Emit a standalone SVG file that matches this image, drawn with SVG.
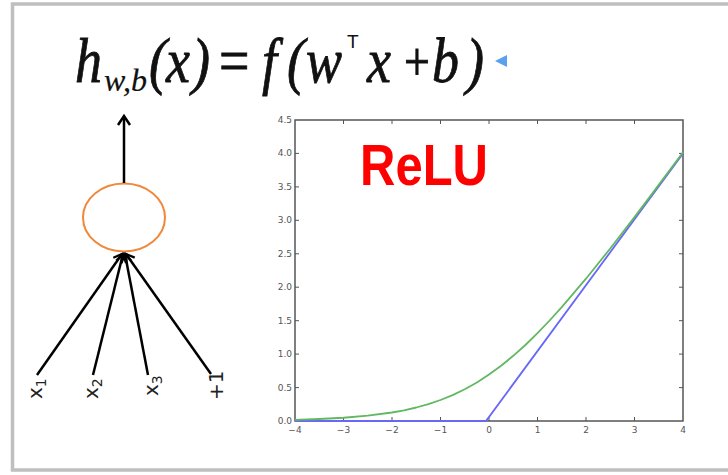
<svg xmlns="http://www.w3.org/2000/svg" width="728" height="475" viewBox="0 0 728 475">
<style>
.frm{fill:#fff;stroke:#bfbfbf;stroke-width:3.5}
.eq{font-family:"Liberation Serif","Times New Roman",serif;fill:#111;font-style:italic;stroke:#111;stroke-width:0.7}
.sub{stroke-width:0.2}
.up{font-style:normal}
.lbl{font-family:"DejaVu Sans","Liberation Sans",sans-serif;font-size:20px;fill:#222}
.tick{font-family:"DejaVu Sans","Liberation Sans",sans-serif;font-size:9px;fill:#555}
.ax{fill:none;stroke:#555;stroke-width:1.5}
.tk{stroke:#555;stroke-width:1}
.edge{stroke:#000;stroke-width:2.5;fill:none}
</style>
<defs>
<marker id="arr" markerUnits="userSpaceOnUse" markerWidth="16" markerHeight="16" refX="10" refY="6" orient="auto">
<path d="M2,1 L10,6 L2,11" fill="none" stroke="#000" stroke-width="2.2"/>
</marker>
</defs>
<rect class="frm" x="12.5" y="4" width="722" height="466"/>

<g id="formula">
<text class="eq" transform="translate(0,82) scale(1,1.18)" y="0" font-size="54"><tspan x="75">h</tspan><tspan x="149">(</tspan><tspan x="166">x</tspan><tspan x="192">)</tspan><tspan class="up" x="219">=</tspan><tspan x="262">f</tspan><tspan x="287">(</tspan><tspan x="306">w</tspan><tspan x="367">x</tspan><tspan class="up" x="404" font-size="46" dy="-2">+</tspan><tspan x="432" dy="2">b</tspan><tspan x="466">)</tspan></text>
<text class="eq sub" x="104" y="91" font-size="32">w,b</text>
<text x="347" y="48" font-family="Liberation Sans,Arial,sans-serif" font-size="19" fill="#111">T</text>
<polygon points="495,61 507,55 507,67" fill="#5aa0f0"/>
</g>

<g id="neuron">
<ellipse cx="124" cy="217.5" rx="41" ry="34" fill="#fff" stroke="#f0883a" stroke-width="2"/>
</g>

<g id="connectors">
<line class="edge" x1="124" y1="183" x2="124" y2="117"/>
<polyline class="edge" points="118,125 124,116 130,125"/>
<line class="edge" x1="37" y1="375" x2="122" y2="254" marker-end="url(#arr)"/>
<line class="edge" x1="93" y1="375" x2="123" y2="254" marker-end="url(#arr)"/>
<line class="edge" x1="148" y1="375" x2="125" y2="254" marker-end="url(#arr)"/>
<line class="edge" x1="211" y1="374" x2="126" y2="254" marker-end="url(#arr)"/>
</g>

<g id="input-x1"><text class="lbl" transform="translate(42,399) rotate(-90)">x<tspan font-size="14" dy="4">1</tspan></text></g>
<g id="input-x2"><text class="lbl" transform="translate(98,399) rotate(-90)">x<tspan font-size="14" dy="4">2</tspan></text></g>
<g id="input-x3"><text class="lbl" transform="translate(158,396) rotate(-90)">x<tspan font-size="14" dy="4">3</tspan></text></g>
<g id="input-bias"><text class="lbl" transform="translate(223,400) rotate(-90)">+1</text></g>

<g id="plot">
<rect class="ax" x="295" y="120" width="388" height="301"/>
<g class="tk">
<path d="M295,153.4h4M295,186.9h4M295,220.3h4M295,253.8h4M295,287.2h4M295,320.7h4M295,354.1h4M295,387.6h4"/>
<path d="M683,153.4h-4M683,186.9h-4M683,220.3h-4M683,253.8h-4M683,287.2h-4M683,320.7h-4M683,354.1h-4M683,387.6h-4"/>
<path d="M343.5,421v-4M392,421v-4M440.5,421v-4M489,421v-4M537.5,421v-4M586,421v-4M634.5,421v-4"/>
<path d="M343.5,120v4M392,120v4M440.5,120v4M489,120v4M537.5,120v4M586,120v4M634.5,120v4"/>
</g>
<g class="tick" text-anchor="end">
<text x="292" y="123">4.5</text><text x="292" y="156.4">4.0</text><text x="292" y="189.9">3.5</text><text x="292" y="223.3">3.0</text><text x="292" y="256.8">2.5</text><text x="292" y="290.2">2.0</text><text x="292" y="323.7">1.5</text><text x="292" y="357.1">1.0</text><text x="292" y="390.6">0.5</text><text x="292" y="424">0.0</text>
</g>
<g class="tick" text-anchor="middle">
<text x="295" y="433">−4</text><text x="343.5" y="433">−3</text><text x="392" y="433">−2</text><text x="440.5" y="433">−1</text><text x="489" y="433">0</text><text x="537.5" y="433">1</text><text x="586" y="433">2</text><text x="634.5" y="433">3</text><text x="683" y="433">4</text>
</g>
<polyline fill="none" stroke="#6868f8" stroke-width="1.8" points="295,421 486,421 683,153.4"/>
<polyline fill="none" stroke="#62b862" stroke-width="1.8" stroke-linejoin="round" points="295,419.8 319.25,419 343.5,417.75 367.75,415.7 392,412.5 404.1,410.3 416.25,407.5 428.4,404.2 440.5,400 452.6,395.1 464.75,389.3 476.9,382.5 489,374.6 501.1,365.8 513.25,355.8 525.4,345 537.5,333.2 549.6,320.5 561.75,307.2 586,278.7 610.25,248.5 634.5,217.1 658.75,184.9 683,152.2"/>
<text x="360" y="185" font-family="Liberation Sans,Arial,sans-serif" font-weight="bold" font-size="58" fill="#ff0000" textLength="128" lengthAdjust="spacingAndGlyphs">ReLU</text>
</g>
</svg>
